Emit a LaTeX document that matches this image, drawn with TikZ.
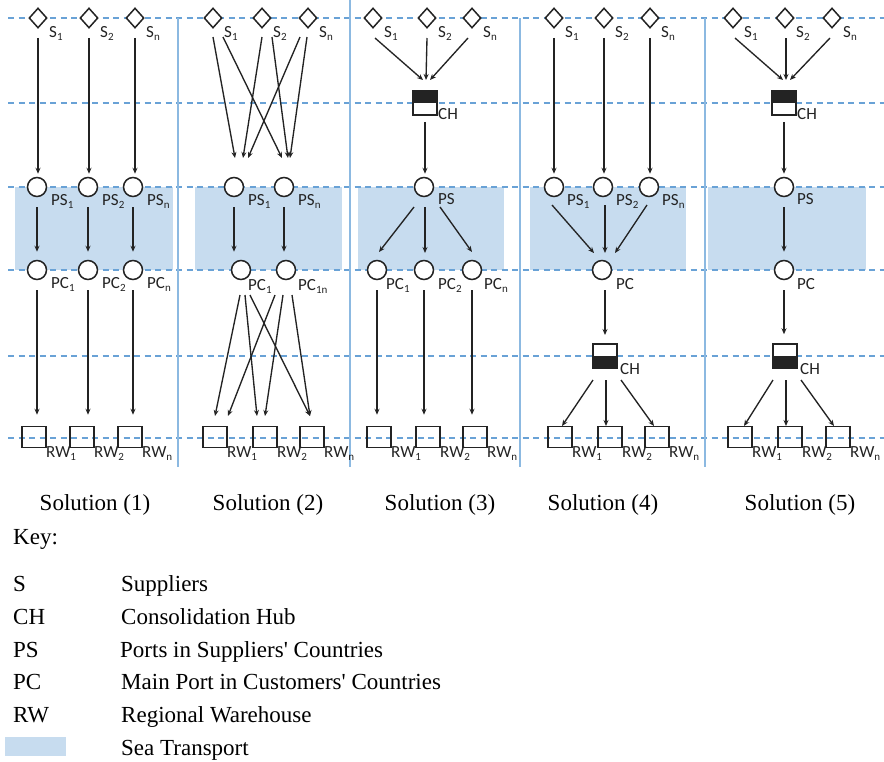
\documentclass[tikz,border=0pt]{standalone}
\usepackage{fontspec}
\setmainfont{Liberation Serif}
\newfontfamily\labfam{Carlito}
\usetikzlibrary{arrows.meta,shapes.geometric}
\definecolor{ink}{RGB}{35,35,35}
\definecolor{gridblue}{RGB}{105,162,214}
\definecolor{sepblue}{RGB}{140,185,225}
\definecolor{seablue}{RGB}{199,220,239}
\newcommand\lsub[1]{\raisebox{-3.5pt}{\fontsize{11}{11}\selectfont #1}}
\newcommand\labsize{\labfam\fontsize{17}{19}\selectfont}
\newcommand\keysize{\fontsize{23}{27}\selectfont}
\tikzset{
  supp/.style={draw=ink, fill=white, line width=1.5pt, shape=diamond, minimum width=18pt, minimum height=20pt, inner sep=0pt},
  port/.style={draw=ink, fill=white, line width=1.5pt, circle, minimum size=19pt, inner sep=0pt},
  wareh/.style={draw=ink, line width=1.5pt, rectangle, minimum width=24pt, minimum height=21pt, inner sep=0pt},
  hubup/.style={draw=ink, fill=white, line width=1.5pt, rectangle, minimum width=24pt, minimum height=24pt, inner sep=0pt,
     path picture={\fill[ink] (path picture bounding box.north west) rectangle (path picture bounding box.east);}},
  hubdown/.style={draw=ink, fill=white, line width=1.5pt, rectangle, minimum width=24pt, minimum height=24pt, inner sep=0pt,
     path picture={\fill[ink] (path picture bounding box.west) rectangle (path picture bounding box.south east);}},
  flow/.style={draw=ink, line width=1.35pt, -{Stealth[length=6pt,width=5pt]}},
  lab/.style={font=\labsize, text=ink, inner sep=0pt, anchor=base west},
  keytext/.style={font=\keysize, inner sep=0pt, anchor=base west},
  soltext/.style={font=\keysize, inner sep=0pt, anchor=base},
  gridline/.style={draw=gridblue, line width=1.2pt, dash pattern=on 6pt off 4.5pt},
  sepline/.style={draw=sepblue, line width=1.6pt},
  seafill/.style={fill=seablue},
}
\begin{document}
\begin{tikzpicture}[x=1pt,y=-1pt]
\useasboundingbox (0,0) rectangle (884,761);
% sea transport bands
\fill[seafill] (15,187) rectangle (173,270);
\fill[seafill] (195,187) rectangle (342,270);
\fill[seafill] (358,187) rectangle (504,270);
\fill[seafill] (530,187) rectangle (686,270);
\fill[seafill] (708,187) rectangle (866,270);
% dashed level lines
\foreach \yy in {18,103,187,270,356,438} \draw[gridline] (8,\yy) -- (884,\yy);
% separators
\draw[sepline] (178,18) -- (178,467);
\draw[sepline] (350,0) -- (350,467);
\draw[sepline] (520,18) -- (520,467);
\draw[sepline] (705,18) -- (705,467);

% ---------- Solution 1
\node[supp] (s11) at (38,18) {};
\node[supp] (s12) at (89,18) {};
\node[supp] (s13) at (135,18) {};
\node[port] (ps11) at (37,187) {};
\node[port] (ps12) at (88,187) {};
\node[port] (ps13) at (133,187) {};
\node[port] (pc11) at (37,270) {};
\node[port] (pc12) at (88,270) {};
\node[port] (pc13) at (133,270) {};
\node[wareh] (rw11) at (34,437) {};
\node[wareh] (rw12) at (82,437) {};
\node[wareh] (rw13) at (130,437) {};
\foreach \i in {1,2,3}{
  \draw[flow, shorten <=9pt, shorten >=3pt] (s1\i) -- (s1\i |- ps1\i.north);
  \draw[flow, shorten <=10pt, shorten >=8pt] (ps1\i) -- (pc1\i);
  \draw[flow, shorten <=10pt, shorten >=11pt] (pc1\i) -- (pc1\i |- rw1\i.north);
}
\node[lab] (s11l) at ([shift={(11,19)}]s11.center) {S\lsub{1}};
\node[lab] (s12l) at ([shift={(11,19)}]s12.center) {S\lsub{2}};
\node[lab] (s13l) at ([shift={(11,19)}]s13.center) {S\lsub{n}};
\node[lab] (ps11l) at ([shift={(14,18)}]ps11.center) {PS\lsub{1}};
\node[lab] (ps12l) at ([shift={(14,18)}]ps12.center) {PS\lsub{2}};
\node[lab] (ps13l) at ([shift={(14,18)}]ps13.center) {PS\lsub{n}};
\node[lab] (pc11l) at ([shift={(14,18)}]pc11.center) {PC\lsub{1}};
\node[lab] (pc12l) at ([shift={(14,18)}]pc12.center) {PC\lsub{2}};
\node[lab] (pc13l) at ([shift={(14,18)}]pc13.center) {PC\lsub{n}};
\node[lab] (rw11l) at ([shift={(12,20)}]rw11.center) {RW\lsub{1}};
\node[lab] (rw12l) at ([shift={(12,20)}]rw12.center) {RW\lsub{2}};
\node[lab] (rw13l) at ([shift={(12,20)}]rw13.center) {RW\lsub{n}};

% ---------- Solution 2
\node[supp] (s21) at (213,18) {};
\node[supp] (s22) at (262,18) {};
\node[supp] (s23) at (308,18) {};
\node[port] (ps21) at (234,187) {};
\node[port] (ps22) at (284,187) {};
\node[port] (pc21) at (241,270) {};
\node[port] (pc22) at (286,270) {};
\node[wareh] (rw21) at (215,437) {};
\node[wareh] (rw22) at (265,437) {};
\node[wareh] (rw23) at (312,437) {};
\draw[flow] ([shift={(0,19)}]s21.center) -- ([shift={(1,-29)}]ps21.center);
\draw[flow] ([shift={(10,19)}]s21.center) -- ([shift={(-2,-29)}]ps22.center);
\draw[flow] ([shift={(0,19)}]s22.center) -- ([shift={(9,-29)}]ps21.center);
\draw[flow] ([shift={(10,19)}]s22.center) -- ([shift={(4,-29)}]ps22.center);
\draw[flow] ([shift={(-8,19)}]s23.center) -- ([shift={(14,-29)}]ps21.center);
\draw[flow] ([shift={(-1,19)}]s23.center) -- ([shift={(6,-29)}]ps22.center);
\draw[flow, shorten <=10pt, shorten >=8pt] (ps21) -- (ps21 |- pc21.north);
\draw[flow, shorten <=10pt, shorten >=8pt] (ps22) -- (ps22 |- pc22.north);
\draw[flow] ([shift={(-1,25)}]pc21.center) -- ([shift={(0,-21)}]rw21.center);
\draw[flow] ([shift={(4,25)}]pc21.center) -- ([shift={(-8,-21)}]rw22.center);
\draw[flow] ([shift={(9,25)}]pc21.center) -- ([shift={(-2,-21)}]rw23.center);
\draw[flow] ([shift={(-11,25)}]pc22.center) -- ([shift={(13,-21)}]rw21.center);
\draw[flow] ([shift={(-3,25)}]pc22.center) -- ([shift={(0,-21)}]rw22.center);
\draw[flow] ([shift={(6,25)}]pc22.center) -- ([shift={(-2,-21)}]rw23.center);
\node[lab] (s21l) at ([shift={(11,19)}]s21.center) {S\lsub{1}};
\node[lab] (s22l) at ([shift={(11,19)}]s22.center) {S\lsub{2}};
\node[lab] (s23l) at ([shift={(11,19)}]s23.center) {S\lsub{n}};
\node[lab] (ps21l) at ([shift={(14,18)}]ps21.center) {PS\lsub{1}};
\node[lab] (ps22l) at ([shift={(14,18)}]ps22.center) {PS\lsub{n}};
\node[lab] (pc21l) at ([shift={(7,20)}]pc21.center) {PC\lsub{1}};
\node[lab] (pc22l) at ([shift={(12,20)}]pc22.center) {PC\lsub{1n}};
\node[lab] (rw21l) at ([shift={(12,20)}]rw21.center) {RW\lsub{1}};
\node[lab] (rw22l) at ([shift={(12,20)}]rw22.center) {RW\lsub{2}};
\node[lab] (rw23l) at ([shift={(12,20)}]rw23.center) {RW\lsub{n}};

% ---------- Solution 3
\node[supp] (s31) at (373,18) {};
\node[supp] (s32) at (427,18) {};
\node[supp] (s33) at (472,18) {};
\node[hubup] (ch31) at (425,103) {};
\node[port] (ps31) at (424,187) {};
\node[port] (pc31) at (377,270) {};
\node[port] (pc32) at (424,270) {};
\node[port] (pc33) at (472,270) {};
\node[wareh] (rw31) at (379,437) {};
\node[wareh] (rw32) at (428,437) {};
\node[wareh] (rw33) at (475,437) {};
\draw[flow] ([shift={(2,20)}]s31.center) -- ([shift={(-2,-23)}]ch31.center);
\draw[flow] ([shift={(0,20)}]s32.center) -- ([shift={(1,-23)}]ch31.center);
\draw[flow] ([shift={(-4,20)}]s33.center) -- ([shift={(5,-23)}]ch31.center);
\draw[flow, shorten <=6pt, shorten >=3pt] (ch31) -- (ch31 |- ps31.north);
\draw[flow] ([shift={(-10,20)}]ps31.center) -- ([shift={(2,-18)}]pc31.center);
\draw[flow] ([shift={(1,20)}]ps31.center) -- ([shift={(1,-17)}]pc32.center);
\draw[flow] ([shift={(16,20)}]ps31.center) -- ([shift={(0,-18)}]pc33.center);
\draw[flow, shorten <=10pt, shorten >=11pt] (pc31) -- (pc31 |- rw31.north);
\draw[flow, shorten <=10pt, shorten >=11pt] (pc32) -- (pc32 |- rw32.north);
\draw[flow, shorten <=10pt, shorten >=11pt] (pc33) -- (pc33 |- rw33.north);
\node[lab] (s31l) at ([shift={(11,19)}]s31.center) {S\lsub{1}};
\node[lab] (s32l) at ([shift={(11,19)}]s32.center) {S\lsub{2}};
\node[lab] (s33l) at ([shift={(11,19)}]s33.center) {S\lsub{n}};
\node[lab] (ch31l) at ([shift={(13,16)}]ch31.center) {CH};
\node[lab] (ps31l) at ([shift={(14,17)}]ps31.center) {PS};
\node[lab] (pc31l) at ([shift={(9,19)}]pc31.center) {PC\lsub{1}};
\node[lab] (pc32l) at ([shift={(14,19)}]pc32.center) {PC\lsub{2}};
\node[lab] (pc33l) at ([shift={(12,19)}]pc33.center) {PC\lsub{n}};
\node[lab] (rw31l) at ([shift={(12,20)}]rw31.center) {RW\lsub{1}};
\node[lab] (rw32l) at ([shift={(12,20)}]rw32.center) {RW\lsub{2}};
\node[lab] (rw33l) at ([shift={(12,20)}]rw33.center) {RW\lsub{n}};

% ---------- Solution 4
\node[supp] (s41) at (554,18) {};
\node[supp] (s42) at (604,18) {};
\node[supp] (s43) at (650,18) {};
\node[port] (ps41) at (554,187) {};
\node[port] (ps42) at (603,187) {};
\node[port] (ps43) at (649,187) {};
\node[port] (pc41) at (602,270) {};
\node[hubdown] (ch41) at (605,356) {};
\node[wareh] (rw41) at (560,437) {};
\node[wareh] (rw42) at (610,437) {};
\node[wareh] (rw43) at (657,437) {};
\draw[flow, shorten <=9pt, shorten >=3pt] (s41) -- (s41 |- ps41.north);
\draw[flow, shorten <=9pt, shorten >=3pt] (s42) -- (s42 |- ps42.north);
\draw[flow, shorten <=9pt, shorten >=3pt] (s43) -- (s43 |- ps43.north);
\draw[flow] ([shift={(-2,18)}]ps41.center) -- ([shift={(-8,-17)}]pc41.center);
\draw[flow] ([shift={(2,18)}]ps42.center) -- ([shift={(3,-17)}]pc41.center);
\draw[flow] ([shift={(-2,18)}]ps43.center) -- ([shift={(13,-17)}]pc41.center);
\draw[flow] ([shift={(3,20)}]pc41.center) -- ([shift={(0,-21)}]ch41.center);
\draw[flow] ([shift={(-12,24)}]ch41.center) -- ([shift={(2,-11)}]rw41.center);
\draw[flow] ([shift={(1,24)}]ch41.center) -- ([shift={(-4,-11)}]rw42.center);
\draw[flow] ([shift={(16,24)}]ch41.center) -- ([shift={(-3,-11)}]rw43.center);
\node[lab] (s41l) at ([shift={(11,19)}]s41.center) {S\lsub{1}};
\node[lab] (s42l) at ([shift={(11,19)}]s42.center) {S\lsub{2}};
\node[lab] (s43l) at ([shift={(11,19)}]s43.center) {S\lsub{n}};
\node[lab] (ps41l) at ([shift={(13,18)}]ps41.center) {PS\lsub{1}};
\node[lab] (ps42l) at ([shift={(13,18)}]ps42.center) {PS\lsub{2}};
\node[lab] (ps43l) at ([shift={(13,18)}]ps43.center) {PS\lsub{n}};
\node[lab] (pc41l) at ([shift={(14,19)}]pc41.center) {PC};
\node[lab] (ch41l) at ([shift={(15,18)}]ch41.center) {CH};
\node[lab] (rw41l) at ([shift={(12,20)}]rw41.center) {RW\lsub{1}};
\node[lab] (rw42l) at ([shift={(12,20)}]rw42.center) {RW\lsub{2}};
\node[lab] (rw43l) at ([shift={(12,20)}]rw43.center) {RW\lsub{n}};

% ---------- Solution 5
\node[supp] (s51) at (733,18) {};
\node[supp] (s52) at (785,18) {};
\node[supp] (s53) at (832,18) {};
\node[hubup] (ch51) at (784,103) {};
\node[port] (ps51) at (784,187) {};
\node[port] (pc51) at (784,270) {};
\node[hubdown] (ch52) at (785,356) {};
\node[wareh] (rw51) at (740,437) {};
\node[wareh] (rw52) at (790,437) {};
\node[wareh] (rw53) at (838,437) {};
\draw[flow] ([shift={(2,20)}]s51.center) -- ([shift={(-1,-23)}]ch51.center);
\draw[flow] ([shift={(1,20)}]s52.center) -- ([shift={(2,-23)}]ch51.center);
\draw[flow] ([shift={(-2,20)}]s53.center) -- ([shift={(6,-23)}]ch51.center);
\draw[flow, shorten <=6pt, shorten >=3pt] (ch51) -- (ch51 |- ps51.north);
\draw[flow, shorten <=10pt, shorten >=8pt] (ps51) -- (pc51);
\draw[flow, shorten <=10pt, shorten >=9pt] (pc51) -- (pc51 |- ch52.north);
\draw[flow] ([shift={(-12,24)}]ch52.center) -- ([shift={(4,-11)}]rw51.center);
\draw[flow] ([shift={(1,24)}]ch52.center) -- ([shift={(-4,-11)}]rw52.center);
\draw[flow] ([shift={(16,24)}]ch52.center) -- ([shift={(-4,-11)}]rw53.center);
\node[lab] (s51l) at ([shift={(11,19)}]s51.center) {S\lsub{1}};
\node[lab] (s52l) at ([shift={(11,19)}]s52.center) {S\lsub{2}};
\node[lab] (s53l) at ([shift={(11,19)}]s53.center) {S\lsub{n}};
\node[lab] (ch51l) at ([shift={(13,16)}]ch51.center) {CH};
\node[lab] (ps51l) at ([shift={(13,17)}]ps51.center) {PS};
\node[lab] (pc51l) at ([shift={(13,19)}]pc51.center) {PC};
\node[lab] (ch52l) at ([shift={(15,18)}]ch52.center) {CH};
\node[lab] (rw51l) at ([shift={(12,20)}]rw51.center) {RW\lsub{1}};
\node[lab] (rw52l) at ([shift={(12,20)}]rw52.center) {RW\lsub{2}};
\node[lab] (rw53l) at ([shift={(12,20)}]rw53.center) {RW\lsub{n}};

% ---------- Solution titles
\node[soltext] (t1) at (95,510) {Solution (1)};
\node[soltext] (t2) at (268,510) {Solution (2)};
\node[soltext] (t3) at (440,510) {Solution (3)};
\node[soltext] (t4) at (603,510) {Solution (4)};
\node[soltext] (t5) at (800,510) {Solution (5)};

% ---------- Key
\node[keytext] (k0) at (13,544) {Key:};
\node[keytext] (k1a) at (13,591) {S};
\node[keytext] (k1b) at (121,591) {Suppliers};
\node[keytext] (k2a) at (13,624) {CH};
\node[keytext] (k2b) at (121,624) {Consolidation Hub};
\node[keytext] (k3a) at (13,657) {PS};
\node[keytext] (k3b) at (120,657) {Ports in Suppliers\textquotesingle{} Countries};
\node[keytext] (k4a) at (13,689) {PC};
\node[keytext] (k4b) at (121,689) {Main Port in Customers\textquotesingle{} Countries};
\node[keytext] (k5a) at (13,722) {RW};
\node[keytext] (k5b) at (121,722) {Regional Warehouse};
\node[seafill, minimum width=61pt, minimum height=19pt, inner sep=0pt] (k6a) at (35.5,746.5) {};
\node[keytext] (k6b) at (121,755) {Sea Transport};
\end{tikzpicture}
\end{document}
